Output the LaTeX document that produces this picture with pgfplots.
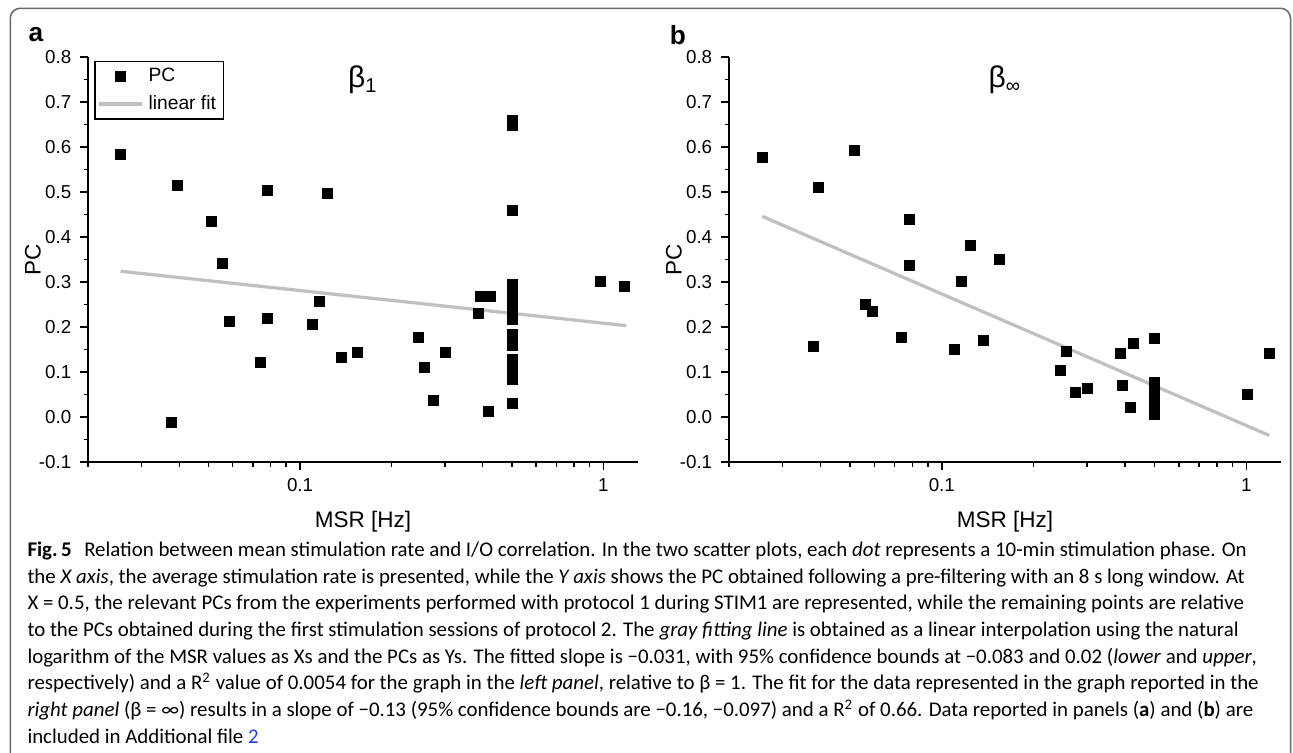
\documentclass[border=0pt]{standalone}
\usepackage{fontspec}
\setmainfont{Liberation Sans}
\newfontfamily\capfont{Carlito}
\usepackage{pgfplots}
\pgfplotsset{compat=1.18}

\definecolor{fitgray}{RGB}{192,192,192}
\definecolor{framegray}{RGB}{105,105,105}
\definecolor{linkblue}{RGB}{35,60,225}

\begin{document}
\begin{tikzpicture}
\path[use as bounding box] (0,0) rectangle (517.2pt,-300.8pt);
\draw[framegray, line width=0.6pt, rounded corners=4pt]
  (4.1pt,-320pt) -- (4.1pt,-3.3pt) -- (516.2pt,-3.3pt) -- (516.2pt,-320pt);

\node[font=\bfseries\fontsize{10.5}{12}\selectfont] at (14.4pt,-14pt) {a};
\node[font=\bfseries\fontsize{10.5}{12}\selectfont] at (271.2pt,-14pt) {b};

% panel a
\begin{axis}[
    scale only axis, width=220pt, height=162pt,
    at={(35.2pt,-184.8pt)}, anchor=south west,
    xmode=log, xmin=0.02, xmax=1.3, ymin=-0.1, ymax=0.8,
    axis lines=left, axis line style={-, line width=0.8pt},
    tick align=outside, major tick length=3.2pt, minor tick length=1.8pt,
    every tick/.style={black, line width=0.6pt},
    xtick={0.1,1}, xticklabels={0.1,1},
    minor xtick={0.02,0.03,0.04,0.05,0.06,0.07,0.08,0.09,0.2,0.3,0.4,0.5,0.6,0.7,0.8,0.9},
    ytick={-0.1,0,0.1,0.2,0.3,0.4,0.5,0.6,0.7,0.8},
    yticklabels={-0.1,0.0,0.1,0.2,0.3,0.4,0.5,0.6,0.7,0.8},
    minor ytick={-0.05,0.05,0.15,0.25,0.35,0.45,0.55,0.65,0.75},
    tick label style={font=\fontsize{7.5}{9}\selectfont},
    label style={font=\fontsize{9}{11}\selectfont},
    xlabel={MSR [Hz]}, ylabel={PC},
    xlabel style={at={(axis description cs:0.5,-0.148)}, anchor=center},
    ylabel style={at={(axis description cs:-0.1,0.5)}, anchor=center},
    legend style={at={(0,1)}, anchor=north west, xshift=2.6pt, yshift=-1.6pt,
      draw=black, line width=0.5pt, font=\fontsize{7.7}{9}\selectfont,
      inner xsep=1pt, inner ysep=0.5pt},
    legend cell align=left]
\addplot[only marks, mark=square*, mark size=2pt, black] coordinates {
  (0.0256,0.584) (0.0394,0.515) (0.0377,-0.013) (0.0512,0.434) (0.0557,0.342)
  (0.0586,0.213) (0.0739,0.121) (0.0782,0.504) (0.0782,0.219) (0.110,0.206)
  (0.116,0.257) (0.1236,0.496) (0.1374,0.133) (0.1549,0.144) (0.2454,0.176)
  (0.2576,0.109) (0.2749,0.037) (0.3014,0.144) (0.389,0.230) (0.3926,0.267)
  (0.426,0.267) (0.418,0.012) (0.975,0.302) (1.175,0.289)
  (0.5,0.659) (0.5,0.648) (0.5,0.458)
  (0.5,0.294) (0.5,0.282) (0.5,0.270) (0.5,0.258) (0.5,0.246) (0.5,0.234)
  (0.5,0.222) (0.5,0.217) (0.5,0.183) (0.5,0.170) (0.5,0.159)
  (0.5,0.127) (0.5,0.115) (0.5,0.107) (0.5,0.084) (0.5,0.030)
};
\addlegendentry{PC}
\addplot[fitgray, line width=1.3pt, no marks] coordinates {(0.0256,0.324) (1.19,0.203)};
\addlegendentry{linear fit}
\node[font=\fontsize{12}{14}\selectfont] at (rel axis cs:0.5,0.943) {β\textsubscript{1}};
\end{axis}

% panel b
\begin{axis}[
    scale only axis, width=220.8pt, height=162pt,
    at={(291.6pt,-184.8pt)}, anchor=south west,
    xmode=log, xmin=0.02, xmax=1.3, ymin=-0.1, ymax=0.8,
    axis lines=left, axis line style={-, line width=0.8pt},
    tick align=outside, major tick length=3.2pt, minor tick length=1.8pt,
    every tick/.style={black, line width=0.6pt},
    xtick={0.1,1}, xticklabels={0.1,1},
    minor xtick={0.02,0.03,0.04,0.05,0.06,0.07,0.08,0.09,0.2,0.3,0.4,0.5,0.6,0.7,0.8,0.9},
    ytick={-0.1,0,0.1,0.2,0.3,0.4,0.5,0.6,0.7,0.8},
    yticklabels={-0.1,0.0,0.1,0.2,0.3,0.4,0.5,0.6,0.7,0.8},
    minor ytick={-0.05,0.05,0.15,0.25,0.35,0.45,0.55,0.65,0.75},
    tick label style={font=\fontsize{7.5}{9}\selectfont},
    label style={font=\fontsize{9}{11}\selectfont},
    xlabel={MSR [Hz]}, ylabel={PC},
    xlabel style={at={(axis description cs:0.5,-0.148)}, anchor=center},
    ylabel style={at={(axis description cs:-0.1,0.5)}, anchor=center}]
\addplot[only marks, mark=square*, mark size=2pt, black] coordinates {
  (0.0258,0.576) (0.0394,0.509) (0.0515,0.592) (0.0379,0.157) (0.056,0.250)
  (0.0591,0.234) (0.0786,0.438) (0.0786,0.337) (0.0739,0.176) (0.110,0.150)
  (0.116,0.302) (0.124,0.381) (0.1374,0.170) (0.155,0.351) (0.2454,0.104)
  (0.2576,0.145) (0.2749,0.054) (0.3014,0.064) (0.387,0.142) (0.391,0.070)
  (0.426,0.163) (0.418,0.022) (1.007,0.050) (1.19,0.141)
  (0.5,0.174) (0.5,0.076) (0.5,0.064) (0.5,0.052) (0.5,0.040) (0.5,0.028)
  (0.5,0.016) (0.5,0.005)
};
\addplot[fitgray, line width=1.3pt, no marks] coordinates {(0.0257,0.446) (1.19,-0.041)};
\node[font=\fontsize{12}{14}\selectfont] at (rel axis cs:0.5,0.943) {β\textsubscript{∞}};
\end{axis}

% caption
\begin{scope}[every node/.style={anchor=base west, inner sep=0pt, font=\capfont\fontsize{8.35}{10}\selectfont}]
\node at (10.8pt,-222.6pt) {\textbf{Fig.\,5}\hspace{0.6em}Relation between mean stimulation rate and I/O correlation. In the two scatter plots, each \textit{dot} represents a 10-min stimulation phase. On};
\node at (10.8pt,-233.27pt) {the \textit{X axis}, the average stimulation rate is presented, while the \textit{Y axis} shows the PC obtained following a pre-filtering with an 8 s long window. At};
\node at (10.8pt,-243.93pt) {X = 0.5, the relevant PCs from the experiments performed with protocol 1 during STIM1 are represented, while the remaining points are relative};
\node at (10.8pt,-254.6pt) {to the PCs obtained during the first stimulation sessions of protocol 2. The \textit{gray fitting line} is obtained as a linear interpolation using the natural};
\node at (10.8pt,-265.27pt) {logarithm of the MSR values as Xs and the PCs as Ys. The fitted slope is −0.031, with 95\% confidence bounds at −0.083 and 0.02 (\textit{lower} and \textit{upper},};
\node at (10.8pt,-275.93pt) {respectively) and a R\textsuperscript{2} value of 0.0054 for the graph in the \textit{left panel}, relative to β = 1. The fit for the data represented in the graph reported in the};
\node at (10.8pt,-286.6pt) {\textit{right panel} (β = ∞) results in a slope of −0.13 (95\% confidence bounds are −0.16, −0.097) and a R\textsuperscript{2} of 0.66. Data reported in panels (\textbf{a}) and (\textbf{b}) are};
\node at (10.8pt,-297.27pt) {included in Additional file \textcolor{linkblue}{2}};
\end{scope}
\end{tikzpicture}
\end{document}
